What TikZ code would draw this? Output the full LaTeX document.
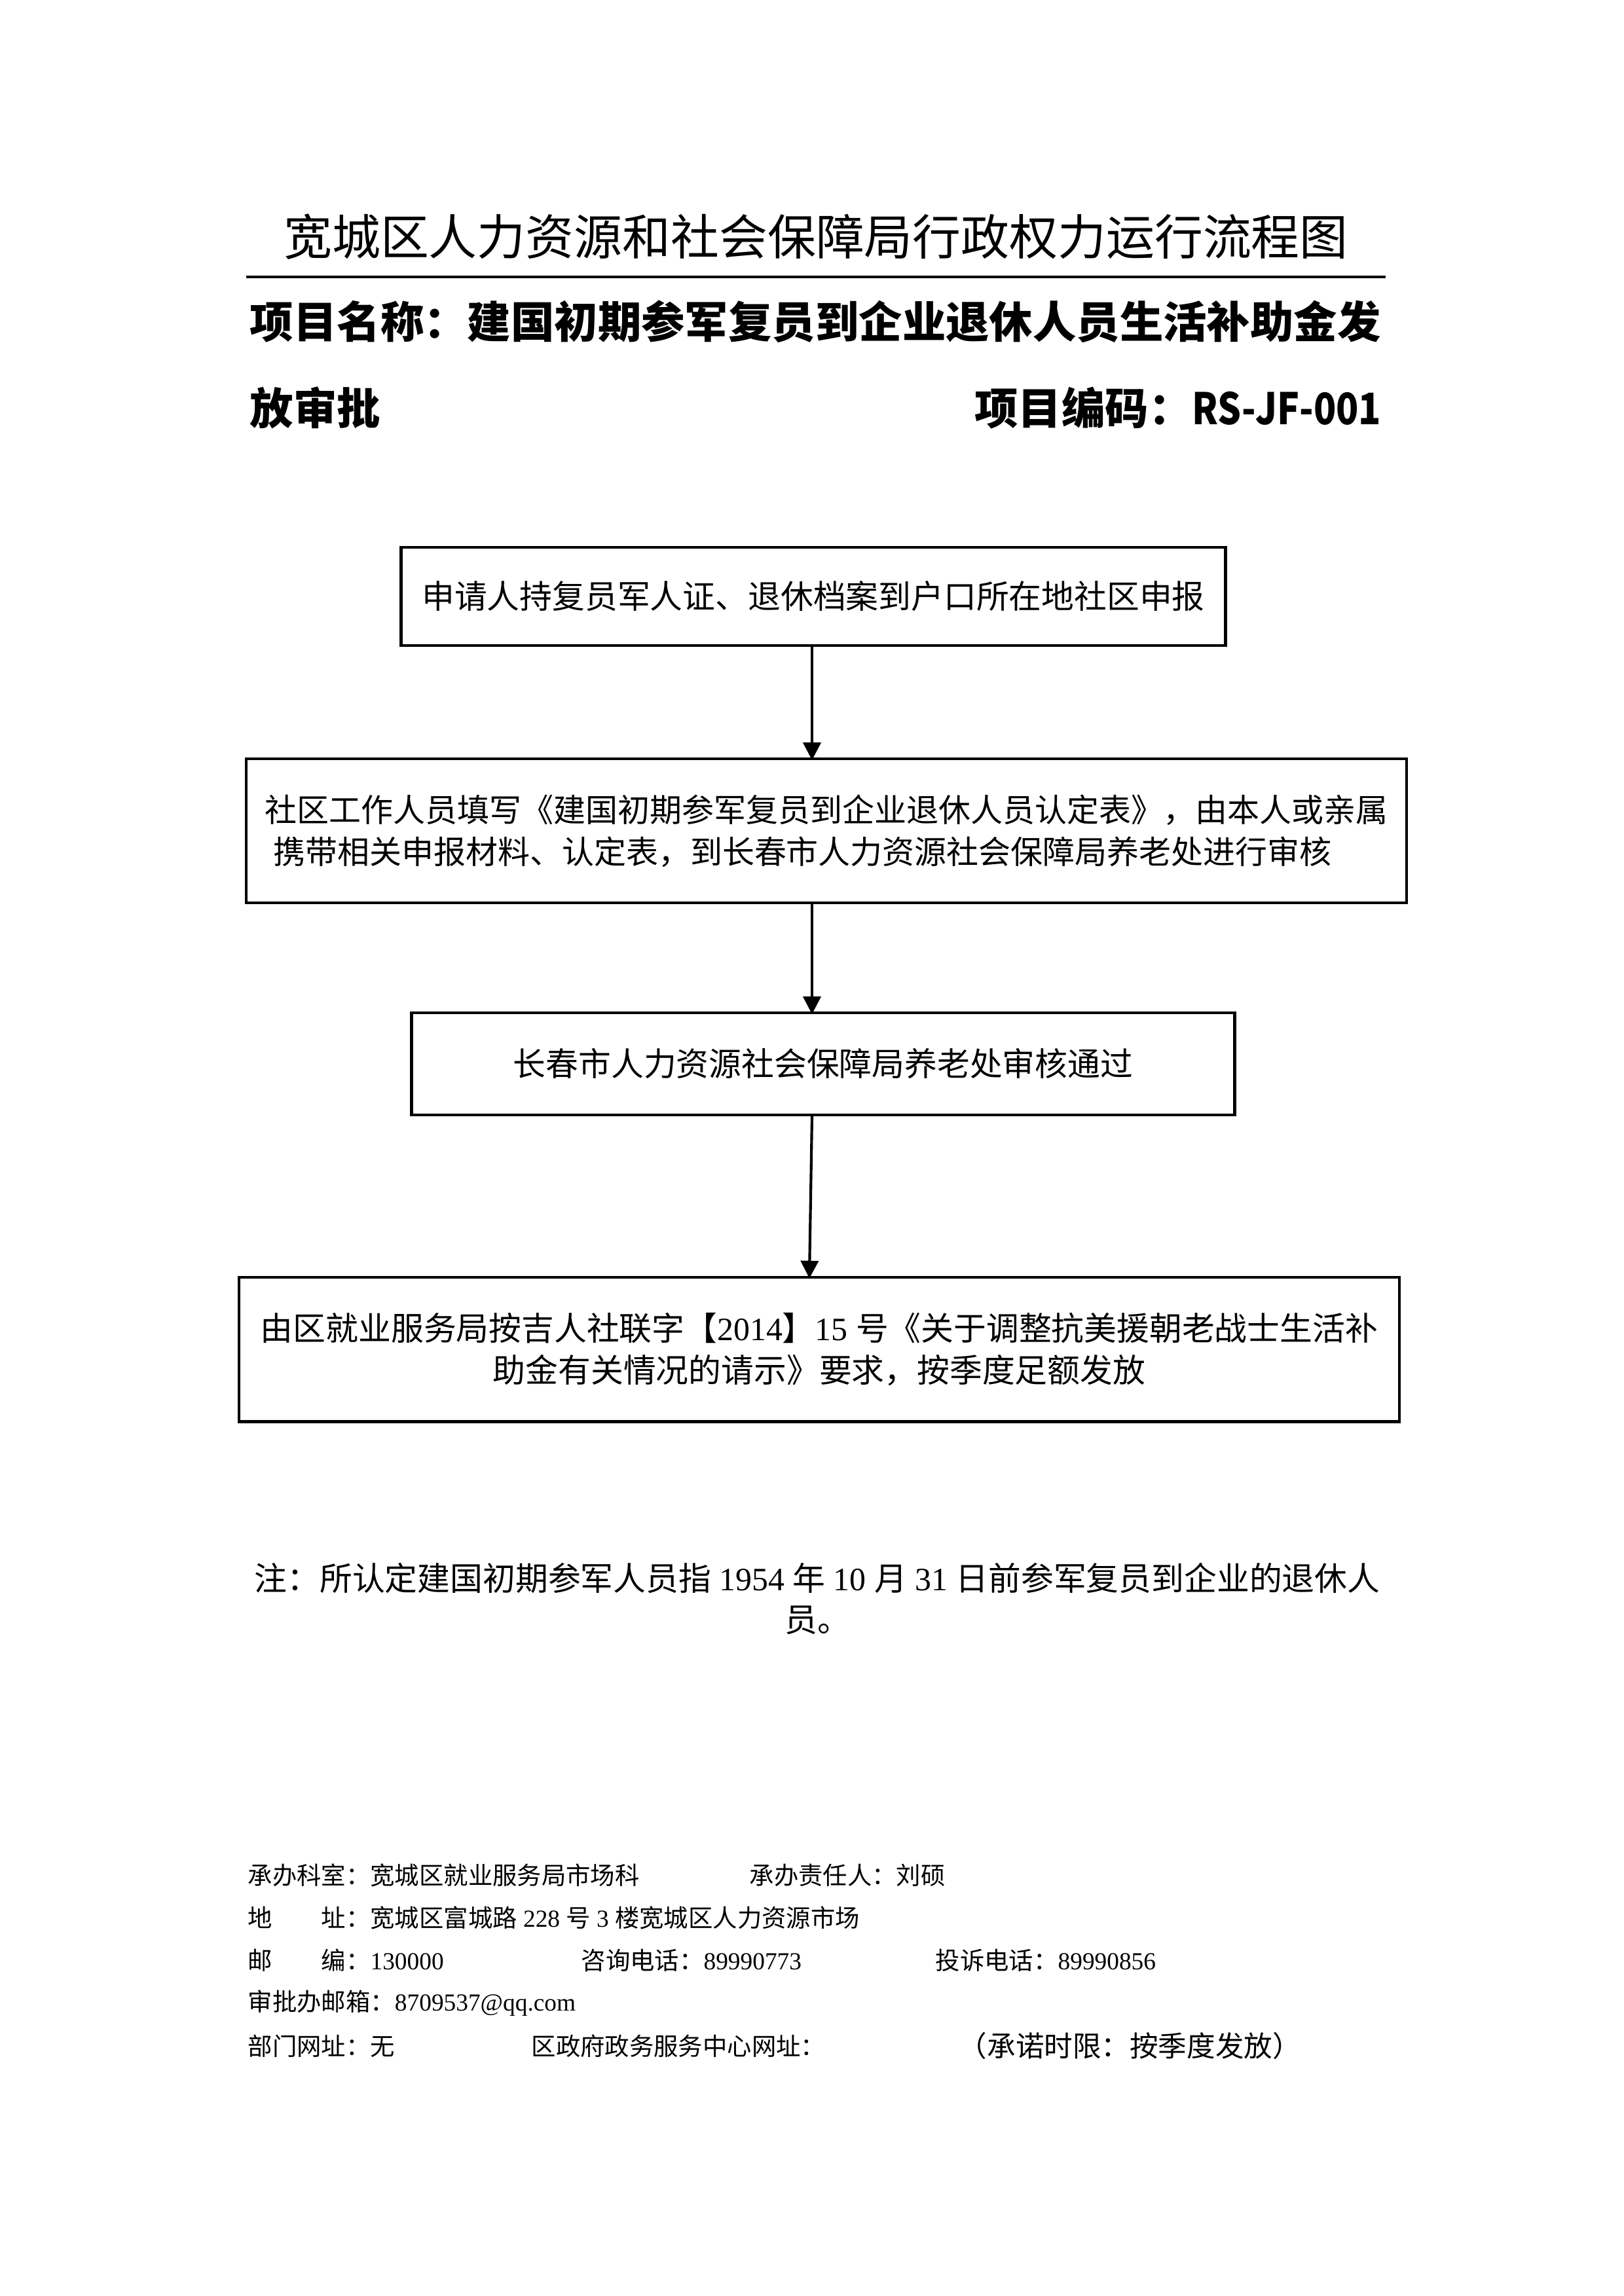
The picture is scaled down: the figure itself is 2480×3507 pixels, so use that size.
\documentclass[tikz,border=0pt]{standalone}
\usepackage{fontspec}
\setmainfont{Noto Sans CJK SC}
\newfontfamily\tnr{Liberation Serif}
\usepackage{tikz}
\usetikzlibrary{arrows.meta,positioning}
\newcommand{\en}[1]{{\tnr #1}}
\tikzstyle{txt}=[inner sep=0pt, anchor=west]

\begin{document}
\begin{tikzpicture}[x=0.0846774mm, y=-0.0846774mm,
    box/.style={draw=black, line width=1pt, inner sep=2pt, font=\fontsize{12pt}{15.5pt}\selectfont},
    arr/.style={-{Triangle[length=6.5pt,width=6.5pt]}, line width=1pt, shorten >=-1pt},
    head/.style={txt, font=\fontsize{16pt}{19pt}\selectfont\bfseries},
    foot/.style={txt, font=\fontsize{9pt}{11pt}\selectfont}]
  \useasboundingbox (0,0) rectangle (2480,3507);
  % title
  \node[inner sep=0pt, font=\fontsize{17.8pt}{22pt}\selectfont] (title) at (1246,362) {宽城区人力资源和社会保障局行政权力运行流程图};
  \coordinate (ul1) at (376,423);
  \coordinate (ul2) at (2116,423);
  \draw[line width=1.2pt] (ul1) -- (ul2);
  \node[head] (name) at (381,491) {项目名称：建国初期参军复员到企业退休人员生活补助金发};
  \node[head] (name2) at (381,623) {放审批};
  \node[head, anchor=east] (code) at (2110,623) {项目编码：\scalebox{0.85}[1]{RS-JF-001}};

  % flow
  \node[box, minimum width=303.3pt, minimum height=36.1pt] (b1) at (1242,911)
    {申请人持复员军人证、退休档案到户口所在地社区申报};
  \node[box, align=left, font=\fontsize{11.8pt}{15.5pt}\selectfont,
        minimum width=426.7pt, minimum height=53pt] (b2) at (1262,1269)
    {社区工作人员填写《建国初期参军复员到企业退休人员认定表》，由本人或亲属\\
     \hspace{3pt}携带相关申报材料、认定表，到长春市人力资源社会保障局养老处进行审核};
  \node[box, minimum width=302.8pt, minimum height=37.6pt] (b3) at (1257,1625)
    {长春市人力资源社会保障局养老处审核通过};
  \node[box, align=center, minimum width=426.7pt, minimum height=53.2pt] (b4) at (1251,2061)
    {由区就业服务局按吉人社联字【\en{2014}】\en{15 }号《关于调整抗美援朝老战士生活补\\
     助金有关情况的请示》要求，按季度足额发放};
  \coordinate (ax) at (1240,0);
  \coordinate (bx) at (1236,0);
  \draw[arr] (b1.south -| ax) -- (b2.north -| ax);
  \draw[arr] (b2.south -| ax) -- (b3.north -| ax);
  \draw[arr] (b3.south -| ax) -- (b4.north -| bx);

  % note
  \node[inner sep=0pt, align=center, font=\fontsize{12pt}{15.2pt}\selectfont] (note) at (1248,2442)
    {注：所认定建国初期参军人员指\en{ 1954 }年\en{ 10 }月\en{ 31 }日前参军复员到企业的退休人\\员。};

  % footer
  \node[foot] (f1) at (378,2864) {承办科室：宽城区就业服务局市场科};
  \node[foot] (f2) at (1144,2864) {承办责任人：刘硕};
  \node[foot] (f3) at (378,2929) {地　　址：宽城区富城路\en{ 228 }号\en{ 3 }楼宽城区人力资源市场};
  \node[foot] (f4) at (378,2994) {邮　　编：\en{130000}};
  \node[foot] (f5) at (887,2994) {咨询电话：\en{89990773}};
  \node[foot] (f6) at (1428,2994) {投诉电话：\en{89990856}};
  \node[foot] (f7) at (378,3060) {审批办邮箱：\en{8709537@qq.com}};
  \node[foot] (f8) at (378,3125) {部门网址：无};
  \node[foot] (f9) at (811,3125) {区政府政务服务中心网址：};
  \node[foot, font=\fontsize{10.5pt}{12pt}\selectfont] (f10) at (1463,3125) {（承诺时限：按季度发放）};
\end{tikzpicture}
\end{document}
